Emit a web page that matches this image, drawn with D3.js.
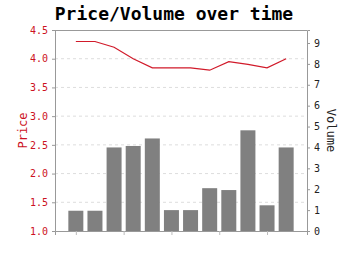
<!DOCTYPE html>
<html><head><meta charset="utf-8">
<script src="https://cdn.jsdelivr.net/npm/d3@7"></script>
<style>
html,body{margin:0;padding:0;background:#fff;}
svg{display:block;}
</style></head>
<body>
<script>
const periods = [0,1,2,3,4,5,6,7,8,9,10,11];
const price  = [4.3,4.3,4.2,4.0,3.84,3.84,3.84,3.8,3.95,3.9,3.84,4.0];
const volume = [0.97,0.97,4.0,4.07,4.43,1.0,1.0,2.05,1.96,4.82,1.23,4.0];
const priceTicks = [1.0,1.5,2.0,2.5,3.0,3.5,4.0,4.5];
const volumeTicks = [0,1,2,3,4,5,6,7,8,9];
const xTicks = [0,2.5,5,7.5,10];
const title = "Price/Volume over time";

const W=350,H=255, L=55, R=307, T=30, B=231;
const mono = "'DejaVu Sans Mono', monospace";
const svg = d3.select("body").append("svg").attr("width",W).attr("height",H);

const x = d3.scaleLinear().domain([-1.09,12.09]).range([L,R]);
const yP = d3.scaleLinear().domain([1.0,4.5]).range([B,T]);
const yV = d3.scaleLinear().domain([0,(B-T)/20.89]).range([B,T]);

// grid
svg.append("g").selectAll("line").data(priceTicks.slice(1,-1)).join("line")
  .attr("x1",L).attr("x2",R).attr("y1",d=>yP(d)).attr("y2",d=>yP(d))
  .attr("stroke","#ddd").attr("stroke-dasharray","3,3");

// bars
const bw = 15/ (x(1)-x(0));
svg.append("g").selectAll("rect").data(periods).join("rect")
  .attr("x",i=>x(i-bw/2)).attr("width",i=>x(i+bw/2)-x(i-bw/2))
  .attr("y",i=>yV(volume[i])).attr("height",i=>B-yV(volume[i]))
  .attr("fill","#808080");

// line
svg.append("path").datum(periods)
  .attr("d",d3.line().x(i=>x(i)).y(i=>yP(price[i])))
  .attr("fill","none").attr("stroke","#d11a2a").attr("stroke-width",1.2);

// frame top
svg.append("line").attr("x1",L).attr("x2",R).attr("y1",T+0.5).attr("y2",T+0.5).attr("stroke","#999");

// axes
const gL = svg.append("g").attr("transform",`translate(${L},0)`)
  .call(d3.axisLeft(yP).tickValues(priceTicks).tickFormat(d3.format(".1f")).tickSize(3).tickPadding(4));
gL.select(".domain").attr("stroke","#999");
gL.selectAll(".tick line").attr("stroke","#999");
gL.selectAll("text").attr("fill","#cc1122").attr("font-family",mono).attr("font-size",10);

const gR = svg.append("g").attr("transform",`translate(${R},0)`)
  .call(d3.axisRight(yV).tickValues(volumeTicks).tickFormat(d3.format("d")).tickSize(3).tickPadding(4));
gR.select(".domain").attr("stroke","#999");
gR.selectAll(".tick line").attr("stroke","#999");
gR.selectAll("text").attr("fill","#222").attr("font-family",mono).attr("font-size",10);

const gB = svg.append("g").attr("transform",`translate(0,${B})`)
  .call(d3.axisBottom(x).tickValues(xTicks).tickFormat("").tickSize(4));
gB.select(".domain").attr("stroke","#999");
gB.selectAll(".tick line").attr("stroke","#bbb");

// titles
svg.append("text").attr("x",174).attr("y",20).attr("text-anchor","middle")
  .attr("font-family",mono).attr("font-weight","bold").attr("font-size",18).attr("fill","#000").text(title);
svg.append("text").attr("transform",`translate(23,${(T+B)/2}) rotate(-90)`).attr("text-anchor","middle")
  .attr("dominant-baseline","central")
  .attr("font-family",mono).attr("font-size",12).attr("fill","#cc1122").text("Price");
svg.append("text").attr("transform",`translate(331,${(T+B)/2}) rotate(90)`).attr("text-anchor","middle")
  .attr("dominant-baseline","central")
  .attr("font-family",mono).attr("font-size",12).attr("fill","#222").text("Volume");
</script>
</body></html>
